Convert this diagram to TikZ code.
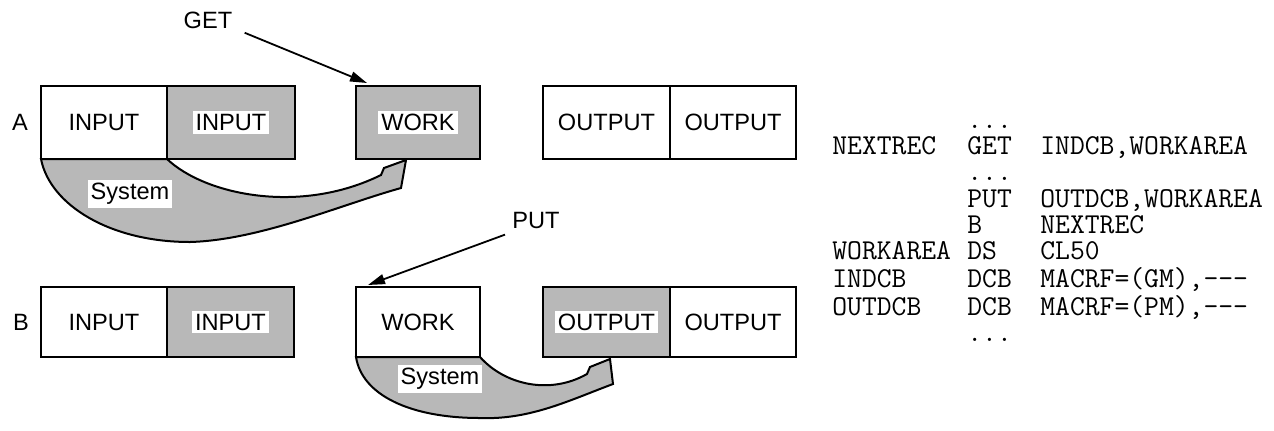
\documentclass[tikz,border=0pt]{standalone}
\usepackage{fontspec}
\setmainfont{Liberation Sans}
\setmonofont{Latin Modern Mono}
\usetikzlibrary{arrows.meta,calc}
\newcommand\wbg[1]{{\setlength\fboxsep{1.5pt}\colorbox{white}{#1}}}
\definecolor{dotgray}{gray}{0.72}
\begin{document}
\begin{tikzpicture}[x=0.5pt,y=-0.5pt,
  box/.style={draw, line width=1pt, outer sep=0pt, inner sep=0pt, font=\fontsize{11.8}{14}\selectfont},
  rowa/.style={minimum height=36.5pt},
  rowb/.style={minimum height=35pt},
  shade/.style={fill=dotgray},
  lab/.style={font=\fontsize{11.8}{14}\selectfont, inner sep=0pt},
  wlab/.style={lab, fill=white, inner sep=1.5pt},
  arr/.style={line width=0.9pt, -{Triangle[length=8.5pt,width=5pt]}},
  sys/.style={draw, line width=1pt, fill=dotgray, line join=miter}]
\useasboundingbox (0,0) rectangle (1274,430);

% row A boxes
\node[box,rowa,minimum width=63pt] (inA1) at (104,122.5) {INPUT};
\node[box,rowa,shade,minimum width=64pt] (inA2) at (231,122.5) {\wbg{INPUT}};
\node[box,rowa,shade,minimum width=62pt] (workA) at (418,122.5) {\wbg{WORK}};
\node[box,rowa,minimum width=63.5pt] (outA1) at (606.5,122.5) {OUTPUT};
\node[box,rowa,minimum width=63pt] (outA2) at (733,122.5) {OUTPUT};
\node[lab] (labA) at (20,122.5) {A};

% row B boxes
\node[box,rowb,minimum width=63pt] (inB1) at (104,322) {INPUT};
\node[box,rowb,shade,minimum width=63.5pt] (inB2) at (230.5,322) {\wbg{INPUT}};
\node[box,rowb,minimum width=62pt] (workB) at (418,322) {WORK};
\node[box,rowb,shade,minimum width=63.5pt] (outB1) at (606.5,322) {\wbg{OUTPUT}};
\node[box,rowb,minimum width=63pt] (outB2) at (733,322) {OUTPUT};
\node[lab] (labB) at (21,322) {B};

% GET / PUT
\node[lab] (get) at (208,20) {GET};
\node[lab] (put) at (536,220) {PUT};
\coordinate (getS) at ($(get.south east)+(12,4)$);
\coordinate (getE) at ($(workA.north west)+(11,-3)$);
\draw[arr] (getS) -- (getE);
\coordinate (putS) at ($(put.south west)+(-7,6)$);
\coordinate (putE) at ($(workB.north west)+(12,-2)$);
\draw[arr] (putS) -- (putE);

% System arrow A
\draw[sys] (inA1.south east) .. controls (205,195) and (300,215) .. (381,175)
  -- (384,168) -- (406,160) -- (401,188)
  .. controls (340,205) and (260,240) .. (190,242)
  .. controls (110,242) and (50,205) .. (inA1.south west) -- cycle;
\node[wlab] (sysA) at (130,194) {System};

% System arrow B
\draw[sys] (workB.south east) .. controls (505,385) and (550,395) .. (587,374)
  -- (590,367) -- (610,359) -- (613,384)
  .. controls (570,400) and (530,420) .. (480,418)
  .. controls (410,418) and (362,395) .. (workB.south west) -- cycle;
\node[wlab] (sysB) at (440,379) {System};

% listing
\node[anchor=base west, inner sep=0pt, font=\ttfamily\fontsize{14.4}{13.125}\selectfont] (code) at (832,128.25) {%
\begin{tabular}[t]{@{}p{67.5pt}@{}p{36.5pt}@{}l@{}}
 & ... & \\
NEXTREC & GET & INDCB,WORKAREA\\
 & ... & \\
 & PUT & OUTDCB,WORKAREA\\
 & B & NEXTREC\\
WORKAREA & DS & CL50\\
INDCB & DCB & MACRF=(GM),---\\
OUTDCB & DCB & MACRF=(PM),---\\
 & ... & \\
\end{tabular}};
\end{tikzpicture}
\end{document}
